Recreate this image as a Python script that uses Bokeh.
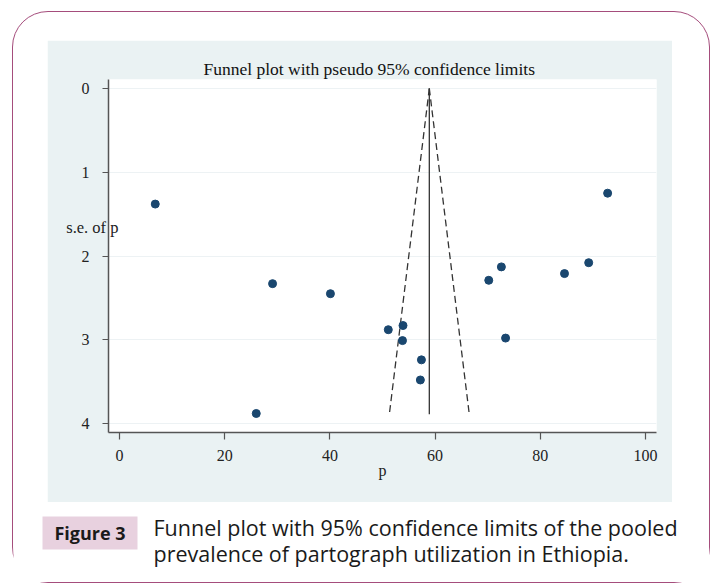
from bokeh.plotting import figure
from bokeh.models import Range1d, FixedTicker, LinearAxis, Spacer, Column, Row
from bokeh.core.properties import value
from bokeh.embed import file_html
from bokeh.resources import INLINE

# ---- data ----
p_vals = [6.8, 29.1, 40.1, 26.0, 51.1, 53.9, 53.8, 57.4, 57.2, 70.2, 72.6, 73.4, 84.6, 89.2, 92.8]
se_vals = [1.38, 2.33, 2.45, 3.88, 2.88, 2.83, 3.01, 3.24, 3.48, 2.29, 2.13, 2.98, 2.21, 2.08, 1.25]
pooled_line_p = [58.9, 58.9]
funnel_se = [0.0, 3.89]
lower_limit = [58.9, 51.3]
upper_limit = [58.9, 66.5]
x_ticks = [0, 20, 40, 60, 80, 100]
y_ticks = [0, 1, 2, 3, 4]
y_label_at = 1.66

title_text = "Funnel plot with pseudo 95% confidence limits"
x_label = "p"
y_label = "s.e. of p"
fig_tag = "Figure 3"
caption_lines = ["Funnel plot with 95% confidence limits of the pooled",
                 "prevalence of partograph utilization in Ethiopia."]

PANEL = "#eaf2f3"
SERIF = "Liberation Serif"
SANS = "Open Sans"
FRAME_COLOR = "#a54d7c"

# ---------------- main funnel plot (the light panel) ----------------
p = figure(width=625, height=462, output_backend="svg", toolbar_location=None,
           x_range=Range1d(-2.09, 102.09), y_range=Range1d(4.107, -0.107),
           min_border_left=61, min_border_right=16, min_border_top=39, min_border_bottom=70,
           border_fill_color=PANEL, background_fill_color="white", outline_line_color=None)

p.title.text = title_text
p.title.align = "left"
p.title.offset = 95
p.title.standoff = 2
p.title.text_font = SERIF
p.title.text_font_size = "17.5px"
p.title.text_font_style = "normal"
p.title.text_color = "#111111"

for ax, ticks, tout, stand in ((p.xaxis, x_ticks, 7, 10), (p.yaxis, y_ticks, 6, 13)):
    ax.ticker = FixedTicker(ticks=ticks)
    ax.major_tick_out = tout
    ax.major_tick_in = 0
    ax.minor_tick_out = 0
    ax.minor_tick_in = 0
    ax.axis_line_color = "#555555"
    ax.axis_line_width = 1.5
    ax.major_tick_line_color = "#555555"
    ax.major_tick_line_width = 1.2
    ax.major_label_text_font = SERIF
    ax.major_label_text_font_size = "16px"
    ax.major_label_text_color = "#222222"
    ax.major_label_standoff = stand

p.xaxis.axis_label = x_label
p.xaxis.axis_label_text_font = SERIF
p.xaxis.axis_label_text_font_size = "16px"
p.xaxis.axis_label_text_font_style = "normal"
p.xaxis.axis_label_text_color = "#222222"
p.xaxis.axis_label_standoff = -2

# y-axis title, Stata style (horizontal, near the top, overlapping the axis)
se_axis = LinearAxis(ticker=FixedTicker(ticks=[y_label_at]),
                     major_label_overrides={y_label_at: y_label},
                     axis_line_color=None, major_tick_line_color=None,
                     minor_tick_line_color=None, major_tick_out=0, major_tick_in=0,
                     major_label_standoff=-40, major_label_text_font=SERIF,
                     major_label_text_font_size="16.5px", major_label_text_color="#222222")
p.add_layout(se_axis, "left")

p.xgrid.visible = False
p.ygrid.ticker = FixedTicker(ticks=y_ticks)
p.ygrid.grid_line_color = "#edf2f4"
p.ygrid.grid_line_width = 1

p.line(pooled_line_p, funnel_se, line_color="#333333", line_width=1.3)
p.line(lower_limit, funnel_se, line_color="#333333", line_width=1.3, line_dash="7 4")
p.line(upper_limit, funnel_se, line_color="#333333", line_width=1.3, line_dash="7 4")
p.scatter(p_vals, se_vals, size=8, fill_color="#1a476f", line_color="#1a476f")

# ---------------- caption strip ----------------
CW, CH = 696, 80
cap = figure(width=CW, height=CH, output_backend="svg", toolbar_location=None,
             x_range=Range1d(0, CW), y_range=Range1d(CH, 0),
             x_axis_type=None, y_axis_type=None, min_border=0,
             border_fill_color="white", background_fill_color="white",
             outline_line_color=None)
cap.quad(left=[29], right=[124], top=[14], bottom=[47], fill_color="#e8d1df", line_color=None)
cap.text(x=[76.5], y=[30.5], text=[fig_tag], text_font=value(SANS), text_font_size="18px",
         text_font_style="bold", text_align="center", text_baseline="middle",
         text_color="#1a1a1a")
cap.text(x=[140, 140], y=[25, 51], text=caption_lines, text_font=value(SANS),
         text_font_size="21.5px", text_align="left", text_baseline="middle",
         text_color="#1a1a1a")

# ---------------- rounded frame layout ----------------
framed = Column(children=[Spacer(width=10, height=28),
                          Row(children=[Spacer(width=34, height=10), p]),
                          cap],
                styles={"border": "1.5px solid " + FRAME_COLOR, "border-radius": "36px",
                        "background-color": "white"})
root = Column(children=[Spacer(width=10, height=11),
                        Row(children=[Spacer(width=12, height=10), framed])])

open("out.html", "w").write(file_html(root, INLINE))
